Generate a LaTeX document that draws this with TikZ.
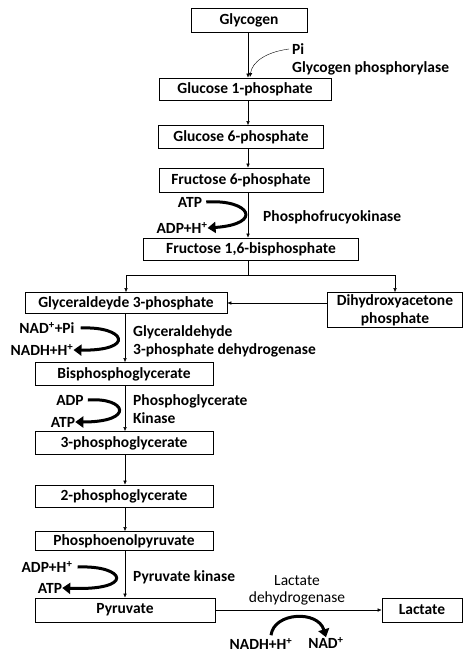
\documentclass[tikz,border=0pt]{standalone}
\usepackage{fontspec}
\setmainfont{Carlito}
\usetikzlibrary{arrows.meta,positioning}
\newcommand{\labfont}{\fontsize{15.5}{18}\selectfont\bfseries}
\tikzset{
  metab/.style  = {draw, thick, rectangle, align=center, inner sep=1pt,
                   font=\labfont},
  enz/.style    = {align=left, anchor=west, font=\labfont, inner sep=0pt},
  cofac/.style  = {font=\labfont, inner sep=0pt},
  rxn/.style    = {-{Latex[length=4pt,width=3.5pt]}, thin},
  swoosh/.style = {line width=3pt, -{Triangle[length=8pt,width=11pt]}},
}

\begin{document}
\begin{tikzpicture}[x=1pt,y=-1pt]
\useasboundingbox (0,0) rectangle (463,659);
% upper chain
\node[metab, minimum width=116, minimum height=24] (glyc)  at (249,20)  {Glycogen};
\node[metab, minimum width=172, minimum height=22] (g1p)   at (245,89)  {Glucose 1-phosphate};
\node[metab, minimum width=165, minimum height=23] (g6p)   at (241,137) {Glucose 6-phosphate};
\node[metab, minimum width=164, minimum height=24] (f6p)   at (241,180) {Fructose 6-phosphate};
\node[metab, minimum width=215, minimum height=22] (f16bp) at (251,249) {Fructose 1,6-bisphosphate};
% split
\node[metab, minimum width=202, minimum height=21] (g3p)   at (126,303) {Glyceraldeyde 3-phosphate};
\node[metab, minimum width=135, minimum height=35] (dhap)  at (395,310) {Dihydroxyacetone\\phosphate};
% lower chain
\node[metab, minimum width=178, minimum height=23] (bpg)   at (124,374) {Bisphosphoglycerate};
\node[metab, minimum width=178, minimum height=23] (pg3)   at (124,443) {3-phosphoglycerate};
\node[metab, minimum width=178, minimum height=22] (pg2)   at (124,496) {2-phosphoglycerate};
\node[metab, minimum width=178, minimum height=19] (pep)   at (124,541) {Phosphoenolpyruvate};
\node[metab, minimum width=180, minimum height=24] (pyr)   at (125,610) {Pyruvate};
\node[metab, minimum width=80,  minimum height=24] (lac)   at (422,610) {Lactate};

% main axis, upper part
\coordinate (xa) at (248,0);
\draw[rxn] (glyc.south -| xa) -- (g1p.north -| xa);
\draw[rxn] (g1p.south -| xa)  -- (g6p.north -| xa);
\draw[rxn] (g6p.south -| xa)  -- (f6p.north -| xa);
\draw[rxn] (f6p.south -| xa)  -- (f16bp.north -| xa);
% aldolase split
\coordinate (fork) at (248,275);
\draw (f16bp.south -| xa) -- (fork);
\draw[rxn] (fork) -| (g3p.north);
\draw[rxn] (fork) -| (dhap.north);
\draw[rxn] (dhap.west |- g3p) -- (g3p.east);
% main axis, lower part
\coordinate (xb) at (125,0);
\draw[rxn] (g3p.south -| xb) -- (bpg.north -| xb);
\draw[rxn] (bpg.south -| xb) -- (pg3.north -| xb);
\draw[rxn] (pg3.south -| xb) -- (pg2.north -| xb);
\draw[rxn] (pg2.south -| xb) -- (pep.north -| xb);
\draw[rxn] (pep.south -| xb) -- (pyr.north -| xb);
\draw[rxn] (pyr.east) -- (lac.west);

% glycogen phosphorylase
\node[cofac, anchor=west] (pi) at (292,49) {Pi};
\node[enz] (gp) at (292,68) {Glycogen phosphorylase};
\coordinate (piend) at (250,77);
\draw[rxn] (pi.west) ++(-3,0) .. controls (266,52) and (252,62) .. (piend);

% phosphofructokinase
\node[cofac] (atp1) at (190,202) {ATP};
\node[cofac] (adp1) at (182,228) {ADP+H\textsuperscript{+}};
\node[enz] (pfk) at (263,217) {Phosphofrucyokinase};
\draw[swoosh] (atp1.east) ++(4,0) .. controls (250,199) and (264,224) .. (adp1.east);

% GAPDH
\node[cofac] (nad1)  at (47,328) {NAD\textsuperscript{+}+Pi};
\node[cofac] (nadh1) at (42,350) {NADH+H\textsuperscript{+}};
\node[enz] (gapdh) at (133,341) {Glyceraldehyde\\3-phosphate dehydrogenase};
\draw[swoosh] (nad1.east) ++(6,0) .. controls (126,326) and (136,351) .. (nadh1.east);

% phosphoglycerate kinase
\node[cofac] (adp2) at (70,400) {ADP};
\node[cofac] (atp2) at (63,422) {ATP};
\node[enz] (pgk) at (133,409) {Phosphoglycerate\\Kinase};
\draw[swoosh] (adp2.east) ++(4,0) .. controls (126,397) and (136,422) .. (atp2.east);

% pyruvate kinase
\node[cofac] (adp3) at (47,567) {ADP+H\textsuperscript{+}};
\node[cofac] (atp3) at (50,588) {ATP};
\node[enz] (pk) at (133,577) {Pyruvate kinase};
\draw[swoosh] (adp3.east) ++(5,0) .. controls (126,565) and (136,591) .. (atp3.east);

% lactate dehydrogenase
\node[cofac, align=center, font=\fontsize{15.5}{17}\selectfont] (ldh) at (297,590) {Lactate\\dehydrogenase};
\node[cofac] (nadh2) at (261,644) {NADH+H\textsuperscript{+}};
\node[cofac] (nad2)  at (326,643) {NAD\textsuperscript{+}};
\draw[swoosh] (nadh2.north) ++(10,-3) .. controls (274,612) and (318,610) .. (nad2.north);
\end{tikzpicture}
\end{document}
